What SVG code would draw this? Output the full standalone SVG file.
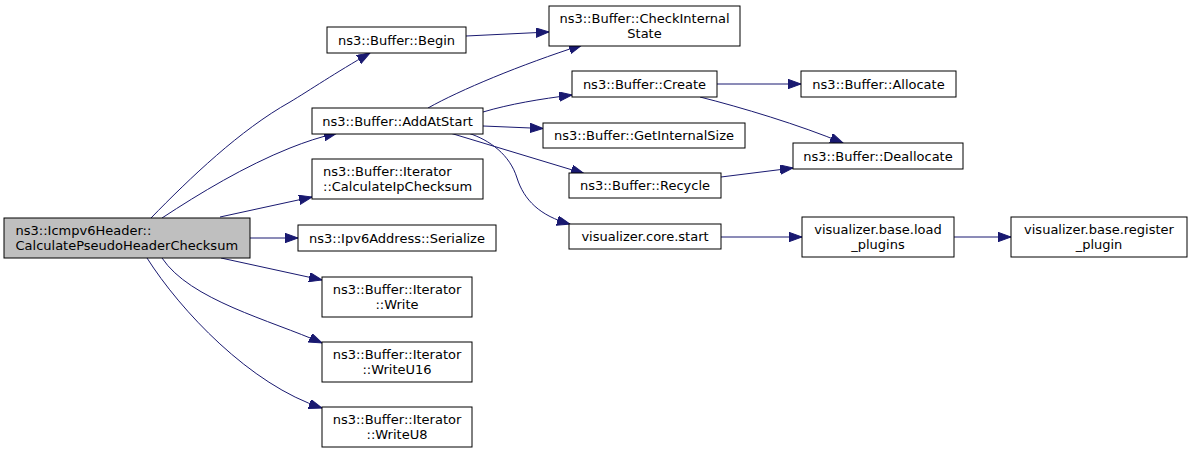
<svg xmlns="http://www.w3.org/2000/svg" width="1192" height="453" viewBox="0 0 1192 453">
<style>
  .box { fill: #ffffff; stroke: #000000; stroke-width: 1; }
  .main { fill: #bfbfbf; stroke: #000000; stroke-width: 1; }
  text { font-family: "DejaVu Sans", "Liberation Sans", sans-serif; font-size: 13px; fill: #000000; }
  .c { text-anchor: middle; }
  .l { text-anchor: start; }
  .edge { fill: none; stroke: #191970; stroke-width: 1; marker-end: url(#arr); }
</style>
<defs>
  <marker id="arr" markerUnits="userSpaceOnUse" markerWidth="14" markerHeight="10" refX="13" refY="4.7" orient="auto" viewBox="0 0 14 10">
    <path d="M0,0 L13,4.7 L0,9.4 z" fill="#191970" stroke="#191970" stroke-width="1"/>
  </marker>
</defs>
<rect width="1192" height="453" fill="#ffffff"/>
<g id="edges">
  <path class="edge" d="M151,218 C190,178 240,130 290,102 C310,90 335,73 370,53"/>
  <path class="edge" d="M162,218 C200,193 245,166 290,148 C305,142 320,137 337,133"/>
  <path class="edge" d="M220,217 L312,197"/>
  <path class="edge" d="M250,238 L298,238"/>
  <path class="edge" d="M221,258 L322,280"/>
  <path class="edge" d="M162,258 C190,300 270,320 322,343"/>
  <path class="edge" d="M147,258 C180,310 250,385 322,408"/>
  <path class="edge" d="M466,36 L549,32"/>
  <path class="edge" d="M428,108 C460,90 520,65 582,45"/>
  <path class="edge" d="M483,112 C510,104 540,99 572,95"/>
  <path class="edge" d="M483,126 L543,128.5"/>
  <path class="edge" d="M450,133 L584,173.5"/>
  <path class="edge" d="M468,133 C490,140 510,155 517,178 C524,200 540,216 570,224"/>
  <path class="edge" d="M717,84 L801,84"/>
  <path class="edge" d="M700,97 C740,107 800,125 843,143"/>
  <path class="edge" d="M721,177 L793,168"/>
  <path class="edge" d="M721,237 L802,237"/>
  <path class="edge" d="M954,237 L1011,237"/>
</g>
<g id="node-main">
  <rect class="main" x="4" y="218" width="246" height="40"/>
  <text class="l" x="15.5" y="234.5">ns3::Icmpv6Header::</text>
  <text class="l" x="15.5" y="249.5">CalculatePseudoHeaderChecksum</text>
</g>
<g id="node-begin">
  <rect class="box" x="327" y="27" width="139" height="26"/>
  <text class="c" x="396.5" y="44.5">ns3::Buffer::Begin</text>
</g>
<g id="node-checkinternalstate">
  <rect class="box" x="549" y="6" width="191" height="40"/>
  <text class="c" x="644.5" y="22.5">ns3::Buffer::CheckInternal</text>
  <text class="c" x="644.5" y="37.5">State</text>
</g>
<g id="node-addatstart">
  <rect class="box" x="312" y="108" width="171" height="26"/>
  <text class="c" x="397.5" y="125.5">ns3::Buffer::AddAtStart</text>
</g>
<g id="node-calculateipchecksum">
  <rect class="box" x="312" y="159" width="171" height="40"/>
  <text class="l" x="323" y="175.5">ns3::Buffer::Iterator</text>
  <text class="l" x="323" y="190.5">::CalculateIpChecksum</text>
</g>
<g id="node-serialize">
  <rect class="box" x="298" y="225" width="198" height="26"/>
  <text class="c" x="397" y="242.5">ns3::Ipv6Address::Serialize</text>
</g>
<g id="node-write">
  <rect class="box" x="322" y="277" width="150" height="40"/>
  <text class="c" x="397" y="293.5">ns3::Buffer::Iterator</text>
  <text class="c" x="397" y="308.5">::Write</text>
</g>
<g id="node-writeu16">
  <rect class="box" x="322" y="342" width="150" height="40"/>
  <text class="c" x="397" y="358.5">ns3::Buffer::Iterator</text>
  <text class="c" x="397" y="373.5">::WriteU16</text>
</g>
<g id="node-writeu8">
  <rect class="box" x="322" y="407" width="150" height="40"/>
  <text class="c" x="397" y="423.5">ns3::Buffer::Iterator</text>
  <text class="c" x="397" y="438.5">::WriteU8</text>
</g>
<g id="node-create">
  <rect class="box" x="572" y="71" width="145" height="26"/>
  <text class="c" x="644.5" y="88.5">ns3::Buffer::Create</text>
</g>
<g id="node-getinternalsize">
  <rect class="box" x="543" y="123" width="202" height="25"/>
  <text class="c" x="644" y="140">ns3::Buffer::GetInternalSize</text>
</g>
<g id="node-recycle">
  <rect class="box" x="569" y="173" width="152" height="25"/>
  <text class="c" x="645" y="190">ns3::Buffer::Recycle</text>
</g>
<g id="node-corestart">
  <rect class="box" x="569" y="224" width="152" height="25"/>
  <text class="c" x="645" y="241">visualizer.core.start</text>
</g>
<g id="node-allocate">
  <rect class="box" x="801" y="71" width="155" height="26"/>
  <text class="c" x="878.5" y="88.5">ns3::Buffer::Allocate</text>
</g>
<g id="node-deallocate">
  <rect class="box" x="793" y="143" width="170" height="26"/>
  <text class="c" x="878" y="160.5">ns3::Buffer::Deallocate</text>
</g>
<g id="node-loadplugins">
  <rect class="box" x="802" y="217" width="152" height="40"/>
  <text class="c" x="878" y="233.5">visualizer.base.load</text>
  <text class="c" x="878" y="248.5">_plugins</text>
</g>
<g id="node-registerplugin">
  <rect class="box" x="1011" y="217" width="176" height="40"/>
  <text class="c" x="1099" y="233.5">visualizer.base.register</text>
  <text class="c" x="1099" y="248.5">_plugin</text>
</g>
</svg>
